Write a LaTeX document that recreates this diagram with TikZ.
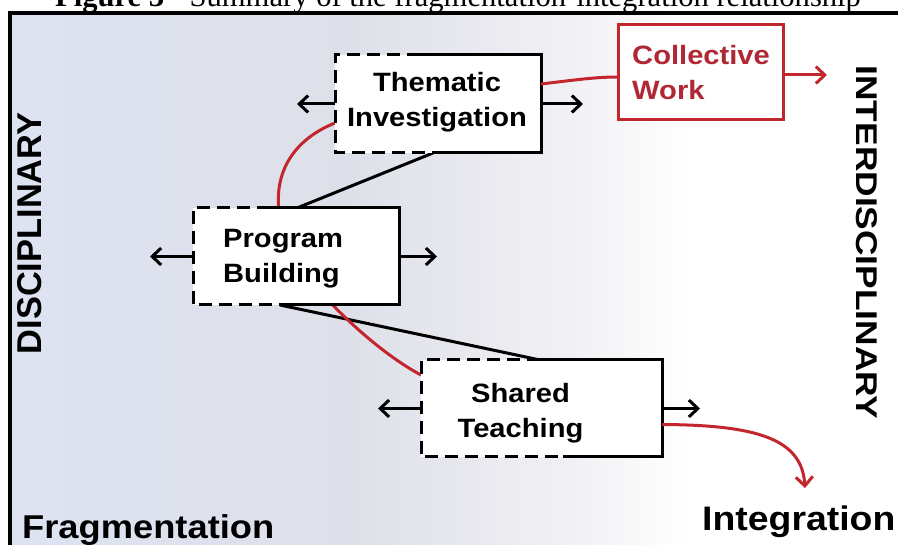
\documentclass[tikz,border=0pt]{standalone}
\usepackage{fontspec}
\usepackage{graphicx}
\setmainfont{Liberation Serif}
\newfontfamily\arw[FakeStretch=1.1]{Liberation Sans}
\newfontfamily\arn{Liberation Sans}
\usetikzlibrary{arrows.meta,calc}
\definecolor{myred}{RGB}{196,38,46}
\definecolor{redtext}{RGB}{176,40,52}
\definecolor{bgA}{RGB}{221,227,241}
\definecolor{bgB}{RGB}{222,224,233}
\definecolor{bgC}{RGB}{240,240,244}
\pgfdeclarelayer{bg}
\pgfsetlayers{bg,main}
\tikzset{
  boxnode/.style={rectangle, inner sep=0pt, outer sep=0pt, fill=white, draw=none},
  solidedge/.style={line width=3pt, line join=miter},
  dashedge/.style={line width=3pt, dash pattern=on 13pt off 7pt},
  boxtext/.style={inner sep=0pt, font=\arw\bfseries\fontsize{26.5}{35}\selectfont},
  barrow/.style={line width=3pt, -{Straight Barb[length=9pt,width=17pt]}},
  rarrow/.style={line width=3pt, draw=myred, -{Straight Barb[length=9pt,width=17pt]}},
  rline/.style={line width=3pt, draw=myred},
  kline/.style={line width=3pt, draw=black},
  sidelabel/.style={inner sep=0pt, font=\arw\bfseries}
}
\newcommand\fragbox[3]{%
  \draw[dashedge] ([xshift=#2pt]#1.north west) -- (#1.north west) -- (#1.south west) -- ([xshift=#3pt]#1.south west);
  \draw[solidedge] ([xshift=#2pt]#1.north west) -- (#1.north east) -- (#1.south east) -- ([xshift=#3pt]#1.south west);
}
\begin{document}
\begin{tikzpicture}[x=1pt,y=-1pt]
\useasboundingbox (0,0) rectangle (898,545);
\clip (0,0) rectangle (898,545);

\begin{pgfonlayer}{bg}
  \fill[left color=bgA, right color=bgB] (10,13) rectangle (351,560);
  \fill[left color=bgB, right color=bgC] (350,13) rectangle (561,560);
  \fill[left color=bgC, right color=white] (560,13) rectangle (691,560);
  \fill[white] (690,13) rectangle (910,560);
\end{pgfonlayer}

% frame
\draw[line width=3.5pt] (10,560) -- (10,13) -- (910,13);

% title
\node[anchor=base, inner sep=0pt, font=\fontsize{30.6}{36}\selectfont] (title) at (458,7)
  {\textbf{Figure 3} - Summary of the fragmentation-integration relationship};

% boxes
\node[boxnode, minimum width=206pt, minimum height=98pt] (thm) at (438,104) {};
\node[boxnode, minimum width=206pt, minimum height=97pt] (prg) at (296,256.5) {};
\node[boxnode, minimum width=241pt, minimum height=97pt] (shr) at (541.5,408.5) {};
\node[boxnode, draw=myred, line width=3pt, minimum width=165pt, minimum height=95pt] (col) at (700.5,72.5) {};

% connectors under the boxes
\begin{pgfonlayer}{bg}
  \draw[kline] ([xshift=98pt]thm.south west) -- ([xshift=104pt]prg.north west);
  \draw[kline] ([xshift=87pt]prg.south west) -- ([xshift=119pt]shr.north west);
  \draw[rline] ([yshift=-19pt]thm.west) .. controls (292,140) and (262,180) .. (288,245)
     .. controls (302,280) and (370,348) .. ([yshift=33.5pt]shr.west);
\end{pgfonlayer}

% box edges
\fragbox{thm}{85}{98}
\fragbox{prg}{77}{90}
\fragbox{shr}{119}{142}

% texts
\node[boxtext, anchor=north, align=center] (thmtxt) at (437,72) {Thematic\\Investigation};
\node[boxtext, anchor=north west, align=left] (prgtxt) at (223,229) {Program\\Building};
\node[boxtext, anchor=north, align=center] (shrtxt) at (520.5,383) {Shared\\Teaching};
\node[boxtext, anchor=north west, align=left, text=redtext] (coltxt) at (632,45) {Collective\\Work};

% free ends
\coordinate (thmL) at ([xshift=-38pt]thm.west);
\coordinate (thmR) at ([xshift=42pt]thm.east);
\coordinate (prgL) at ([xshift=-43pt]prg.west);
\coordinate (prgR) at ([xshift=38pt]prg.east);
\coordinate (shrL) at ([xshift=-43pt]shr.west);
\coordinate (shrR) at ([xshift=38pt]shr.east);
\coordinate (colR) at (827,75);
\coordinate (intTip) at (805,488);

% arrows
\draw[barrow] (thm.west) -- (thmL);
\draw[barrow] (thm.east) -- (thmR);
\draw[barrow] (prg.west) -- (prgL);
\draw[barrow] (prg.east) -- (prgR);
\draw[barrow] (shr.west) -- (shrL);
\draw[barrow] (shr.east) -- (shrR);

\draw[rline] ([yshift=20pt]thm.east) .. controls (575,80) and (595,77) .. ([yshift=-4.5pt]col.west);
\draw[rarrow] ([yshift=-2.5pt]col.east) -- (colR);
\draw[rarrow] ([yshift=-16pt]shr.east) .. controls (760,425) and (802,440) .. (intTip);

% side labels
\node[inner sep=0pt, rotate=90, font=\arn\bfseries\fontsize{34.4}{40}\selectfont] (disc) at (30,233.5) {DISCIPLINARY};
\node[inner sep=0pt, rotate=-90, font=\arn\bfseries\fontsize{35.3}{40}\selectfont] (inter) at (867,242.5) {\scalebox{1}[0.85]{INTERDISCIPLINARY}};
\node[sidelabel, anchor=base west, font=\arw\bfseries\fontsize{33}{40}\selectfont] (frag) at (22,538) {Fragmentation};
\node[sidelabel, anchor=base west, font=\arw\bfseries\fontsize{34}{40}\selectfont] (integ) at (702,530) {Integration};
\end{tikzpicture}
\end{document}
